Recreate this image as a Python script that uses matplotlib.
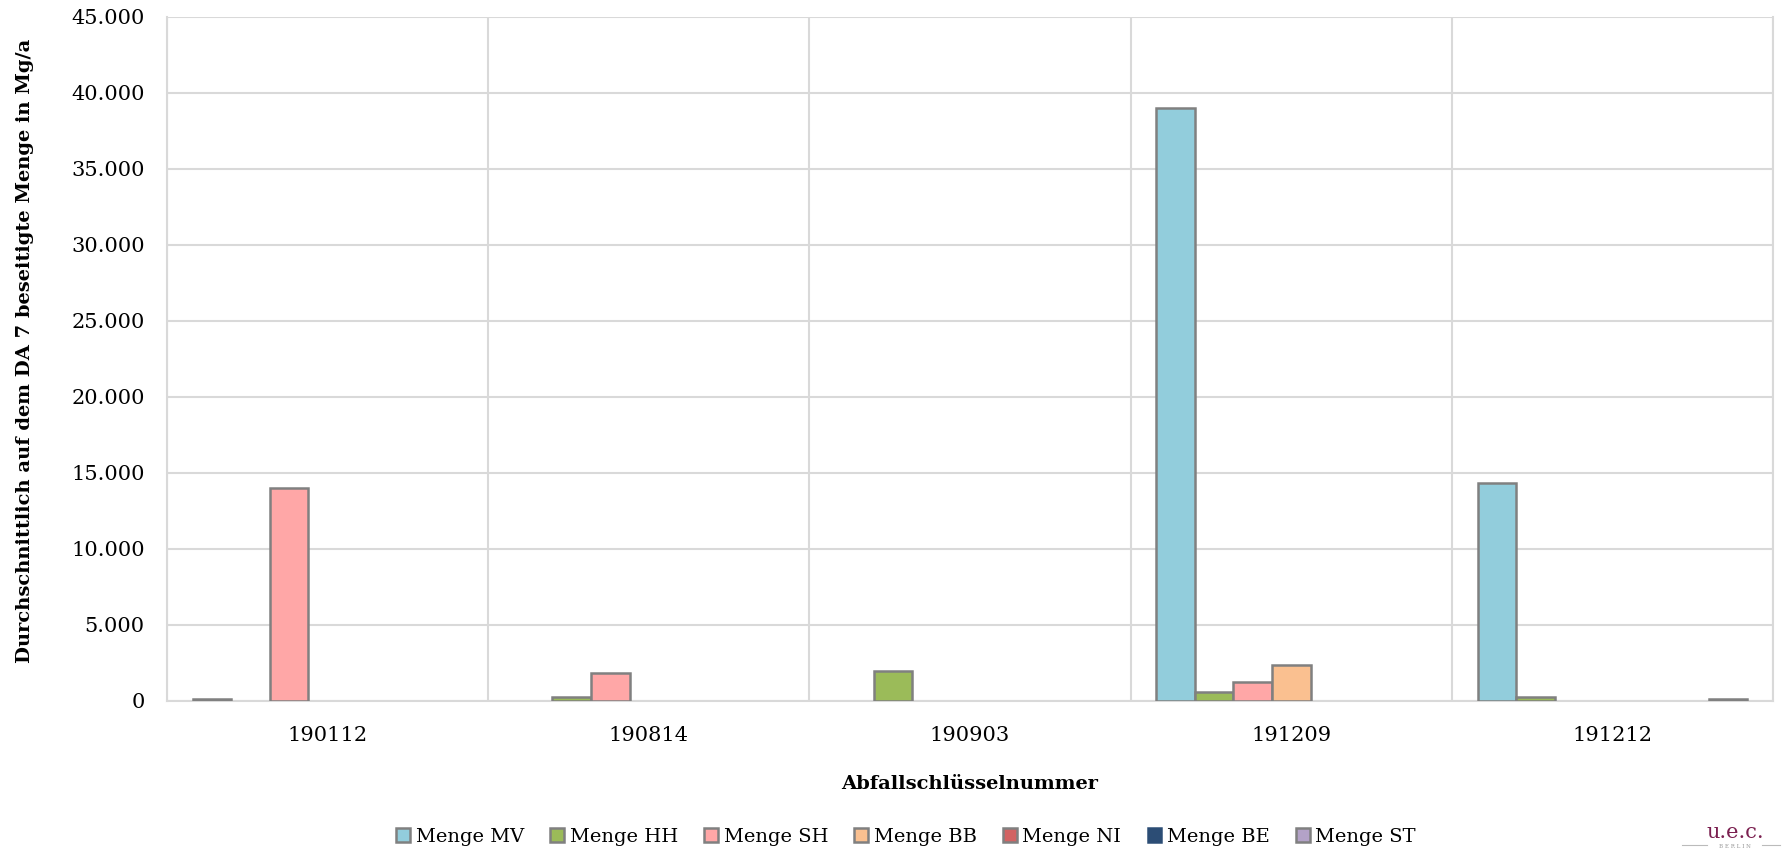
import matplotlib.pyplot as plt
from matplotlib.lines import Line2D
import numpy as np

plt.rcParams["font.family"] = ["DejaVu Serif"]

# Abfallschlüsselnummern und Mengen je Bundesland (Mg/a)
codes = ["190112", "190814", "190903", "191209", "191212"]
series = ["Menge MV", "Menge HH", "Menge SH", "Menge BB", "Menge NI", "Menge BE", "Menge ST"]
menge_mv = [80, 0, 0, 39000, 14350]
menge_hh = [0, 250, 1950, 550, 250]
menge_sh = [14000, 1850, 0, 1250, 0]
menge_bb = [0, 0, 0, 2350, 0]
menge_ni = [0, 0, 0, 0, 0]
menge_be = [0, 0, 0, 0, 0]
menge_st = [0, 0, 0, 0, 100]
werte = [menge_mv, menge_hh, menge_sh, menge_bb, menge_ni, menge_be, menge_st]
farben = ["#92CDDC", "#9BBB59", "#FFA7A7", "#FAC090", "#D26363", "#2C4D75", "#B3A2C7"]
kanten = ["#808080"] * 5 + ["#2C4D75", "#808080"]

fig = plt.figure(figsize=(17.82, 8.51), dpi=100)
ax = fig.add_axes([0.0937, 0.1766, 0.9013, 0.8038])

x = np.arange(len(codes))
n = len(series)
gap = 1.33
bw = 1.0 / (n + gap)
for i, (name, vals) in enumerate(zip(series, werte)):
    pos = x - 0.5 + bw * gap / 2 + bw * (i + 0.5)
    v = np.array(vals, dtype=float)
    v[v == 0] = np.nan  # Nullwerte nicht zeichnen
    ax.bar(pos, v, width=bw, color=farben[i], edgecolor=kanten[i],
           linewidth=1.8, label=name, zorder=3)

ax.set_xlim(-0.5, len(codes) - 0.5)
ax.set_ylim(0, 45000)
ax.set_yticks(np.arange(0, 45001, 5000))
ax.set_yticklabels(["0"] + [f"{v // 1000}.000" for v in range(5000, 45001, 5000)])
ax.set_xticks(x)
ax.set_xticklabels(codes)
ax.set_xticks(np.arange(-0.5, len(codes)), minor=True)
ax.tick_params(axis="both", which="both", length=0, labelsize=15)
ax.tick_params(axis="x", pad=18)
ax.tick_params(axis="y", pad=16)
ax.grid(axis="y", which="major", color="#D9D9D9", linewidth=1.5, zorder=0)
ax.grid(axis="x", which="minor", color="#D9D9D9", linewidth=1.5, zorder=0)
ax.grid(axis="x", which="major", visible=False)
for s in ax.spines.values():
    s.set_color("#D9D9D9")
    s.set_linewidth(1.5)
ax.spines["top"].set_visible(False)

ax.set_xlabel("Abfallschlüsselnummer", fontsize=14, fontweight="bold", labelpad=22)
ax.set_ylabel("Durchschnittlich auf dem DA 7 beseitigte Menge in Mg/a",
              fontsize=14, fontweight="bold")
ax.yaxis.set_label_coords(-0.083, 0.512)

fig.legend(loc="center", bbox_to_anchor=(0.5085, 0.0165), ncol=7, frameon=False,
           fontsize=14, handlelength=0.7, handleheight=0.7, handletextpad=0.3,
           columnspacing=1.35)

# Logo unten rechts
fig.text(0.9735, 0.011, "u.e.c.", color="#7B2050", fontsize=15, ha="center", va="bottom")
fig.text(0.9735, 0.0025, "B E R L I N", color="#999999", fontsize=4, ha="center", va="bottom")
fig.add_artist(Line2D([0.944, 0.958], [0.0065, 0.0065], color="#BBBBBB", linewidth=0.8))
fig.add_artist(Line2D([0.989, 0.999], [0.0065, 0.0065], color="#BBBBBB", linewidth=0.8))

fig.savefig("out.png", dpi=100)
